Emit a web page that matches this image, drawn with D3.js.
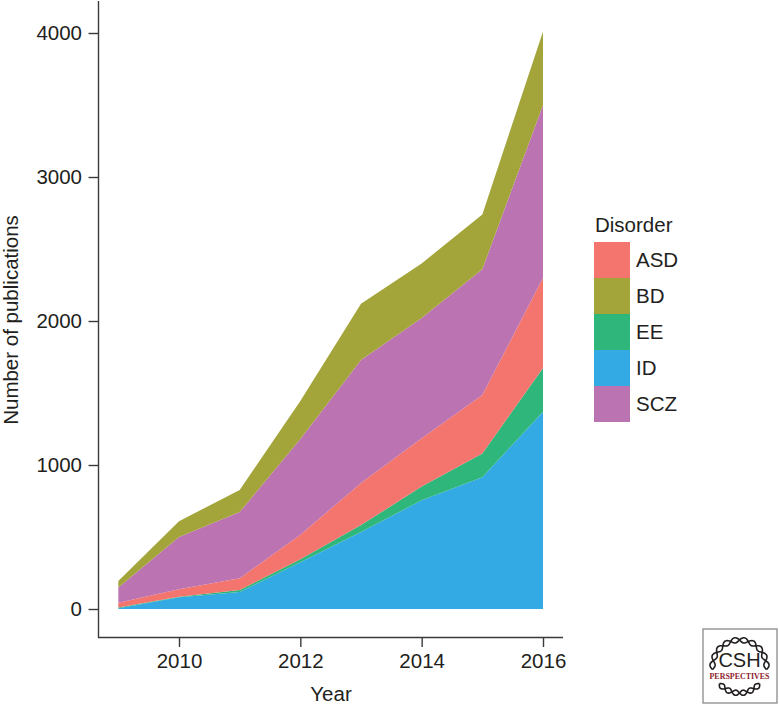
<!DOCTYPE html>
<html>
<head>
<meta charset="utf-8">
<script src="https://cdn.jsdelivr.net/npm/d3@7"></script>
<style>
  html, body { margin: 0; padding: 0; background: #fff; }
  svg { display: block; }
  text { font-family: "Liberation Sans", sans-serif; fill: #231f20; }
</style>
</head>
<body>
<script>
const years = [2009, 2010, 2011, 2012, 2013, 2014, 2015, 2016];
const disorders = ["ASD", "BD", "EE", "ID", "SCZ"];
const stackOrder = ["ID", "EE", "ASD", "SCZ", "BD"];
const asd = [34, 52, 81, 170, 292, 335, 406, 627];
const bd = [44, 110, 153, 265, 390, 380, 380, 510];
const ee = [5, 3, 14, 20, 48, 95, 165, 303];
const id = [5, 82, 118, 325, 535, 755, 915, 1370];
const scz = [106, 363, 460, 665, 854, 835, 874, 1200];
const yTicks = [0, 1000, 2000, 3000, 4000];
const xTicks = [2010, 2012, 2014, 2016];

const colors = {ASD: "#f4756e", BD: "#a3a53a", EE: "#2fb67b", ID: "#33aae3", SCZ: "#bc73b1"};
const seriesByName = {ASD: asd, BD: bd, EE: ee, ID: id, SCZ: scz};
const fontSize = 20.5;

const svg = d3.select("body").append("svg")
  .attr("width", 779)
  .attr("height", 706);

const x = d3.scaleLinear().domain([2010, 2016]).range([179, 543]);
const y = d3.scaleLinear().domain([0, 4000]).range([609, 33]);

const rows = years.map((year, i) => {
  const row = {year: year};
  disorders.forEach(d => { row[d] = seriesByName[d][i]; });
  return row;
});

const stack = d3.stack().keys(stackOrder);
const area = d3.area()
  .x(d => x(d.data.year))
  .y0(d => y(d[0]))
  .y1(d => y(d[1]));

svg.selectAll("path.layer")
  .data(stack(rows))
  .enter()
    .append("path")
    .attr("class", "layer")
    .attr("fill", d => colors[d.key])
    .attr("d", area);

// axes, lines sit outside the plot the way ggplot draws them
const xAxis = svg.append("g")
  .attr("transform", "translate(0,637.5)")
  .call(d3.axisBottom(x).tickValues(xTicks).tickFormat(d3.format("d")).tickSize(9.5).tickPadding(6.5));
const yAxis = svg.append("g")
  .attr("transform", "translate(98.5,0)")
  .call(d3.axisLeft(y).tickValues(yTicks).tickFormat(d3.format("d")).tickSize(10).tickPadding(6.5));

xAxis.select(".domain").attr("d", "M98,0H563");
yAxis.select(".domain").attr("d", "M0,1V638");
svg.selectAll(".domain, .tick line").attr("stroke", "#3a3a3c").attr("stroke-width", 1.4);
svg.selectAll(".tick text").attr("font-size", fontSize).style("font-family", '"Liberation Sans", sans-serif').attr("fill", "#231f20");

svg.append("text")
  .attr("x", 331).attr("y", 701)
  .attr("text-anchor", "middle")
  .attr("font-size", fontSize)
  .text("Year");
svg.append("text")
  .attr("transform", "translate(18,320) rotate(-90)")
  .attr("text-anchor", "middle")
  .attr("font-size", fontSize)
  .text("Number of publications");

// legend
const legendY = d3.scaleBand().domain(disorders).range([242, 422]);
svg.append("text")
  .attr("x", 595).attr("y", 232)
  .attr("font-size", fontSize)
  .text("Disorder");
const legend = svg.selectAll("g.legend")
  .data(disorders)
  .enter()
    .append("g")
    .attr("class", "legend");
legend.append("rect")
  .attr("x", 594).attr("width", 36)
  .attr("y", d => legendY(d))
  .attr("height", legendY.bandwidth())
  .attr("fill", d => colors[d]);
legend.append("text")
  .attr("x", 636)
  .attr("y", d => legendY(d) + legendY.bandwidth() / 2 + 7)
  .attr("font-size", fontSize)
  .text(d => d);

// publisher badge
const logo = svg.append("g").attr("transform", "translate(703,629)");
logo.append("rect")
  .attr("x", 0).attr("y", 0).attr("width", 74).attr("height", 74)
  .attr("fill", "#fff").attr("stroke", "#8a8a8a").attr("stroke-width", 1.3);

function helix(start, span, r, waves, sign) {
  return d3.range(0, 1.0001, 0.01).map(t => {
    const a = Math.PI * (start + span * t);
    const rr = r + sign * 2.6 * Math.sin(t * Math.PI * waves);
    return [36.5 + rr * Math.cos(a), 38 + rr * Math.sin(a)];
  });
}
const helixLine = d3.line().curve(d3.curveCardinal);
[helix(0.97, 1.06, 27, 10, 1), helix(0.97, 1.06, 27, 10, -1),
 helix(0.22, 0.56, 26, 6, 1), helix(0.22, 0.56, 26, 6, -1)].forEach(pts => {
  logo.append("path")
    .attr("d", helixLine(pts))
    .attr("fill", "none")
    .attr("stroke", "#231f20")
    .attr("stroke-width", 1.6);
});
logo.append("text")
  .attr("x", 36.5).attr("y", 37.5)
  .attr("text-anchor", "middle")
  .attr("font-size", 20)
  .text("CSH");
logo.append("text")
  .attr("x", 36.5).attr("y", 50)
  .attr("text-anchor", "middle")
  .attr("font-size", 9)
  .attr("font-weight", "bold")
  .attr("textLength", 60)
  .attr("lengthAdjust", "spacingAndGlyphs")
  .style("font-family", '"Liberation Serif", serif')
  .style("fill", "#8c1c2c")
  .text("PERSPECTIVES");
</script>
</body>
</html>
